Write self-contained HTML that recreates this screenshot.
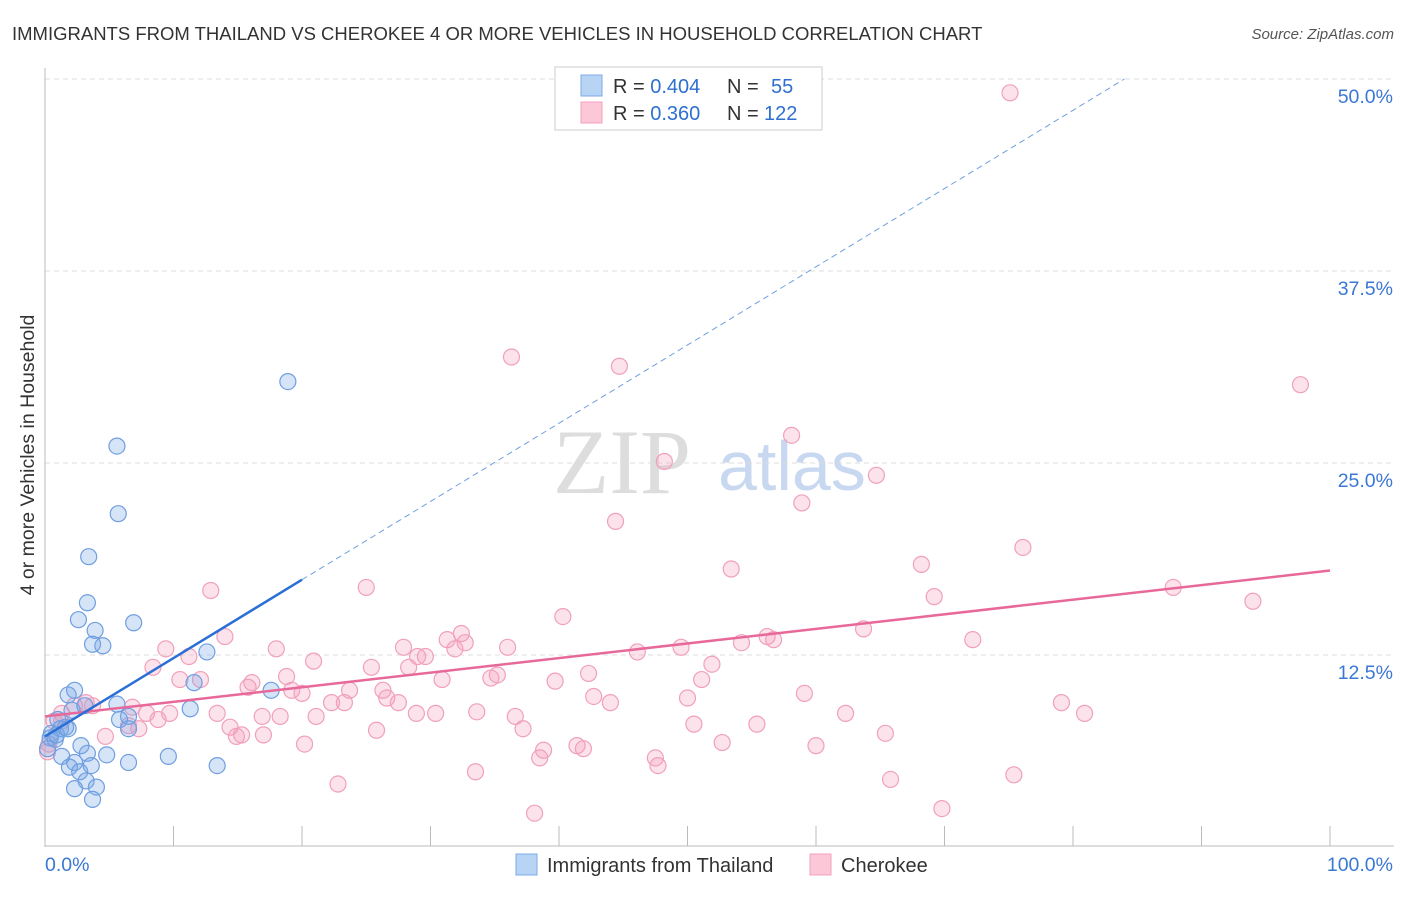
<!DOCTYPE html>
<html><head><meta charset="utf-8"><style>
body{margin:0;background:#fff;font-family:"Liberation Sans",sans-serif}
svg text{font-family:"Liberation Sans",sans-serif}
</style></head><body>
<svg id="chart" width="1406" height="892">
<text x="12" y="40" font-size="18.5" fill="#333">IMMIGRANTS FROM THAILAND VS CHEROKEE 4 OR MORE VEHICLES IN HOUSEHOLD CORRELATION CHART</text>
<text x="1394" y="39" font-size="15" fill="#555" font-style="italic" text-anchor="end">Source: ZipAtlas.com</text>
<text transform="translate(34,455) rotate(-90)" font-size="19.5" fill="#333" text-anchor="middle">4 or more Vehicles in Household</text>
<g><text x="553" y="493" font-size="92" fill="#ddd" font-family="Liberation Serif" style="font-family:'Liberation Serif',serif">ZIP</text><text x="718" y="490" font-size="70" fill="#c8d8f0">atlas</text></g>
<g id="grid"></g><g id="axes"></g><g id="pts"></g><g id="lines"></g>
<g>
<rect x="555" y="67" width="267" height="63" fill="#fff" stroke="#ccc"/>
<rect x="581" y="75" width="21" height="21" fill="#b8d4f5" stroke="#7eaae6"/>
<rect x="581" y="102" width="21" height="21" fill="#fcc8d8" stroke="#f0a0bc"/>
<text x="613" y="93" font-size="20" fill="#333">R = <tspan fill="#2f6fd0">0.404</tspan><tspan x="727">N = </tspan><tspan x="771" fill="#2f6fd0">55</tspan></text>
<text x="613" y="120" font-size="20" fill="#333">R = <tspan fill="#2f6fd0">0.360</tspan><tspan x="727">N = </tspan><tspan x="764" fill="#2f6fd0">122</tspan></text>
</g>
<g>
<rect x="516" y="854" width="21" height="21" fill="#b8d4f5" stroke="#7eaae6"/>
<text x="547" y="872" font-size="20" fill="#333">Immigrants from Thailand</text>
<rect x="810" y="854" width="21" height="21" fill="#fcc8d8" stroke="#f0a0bc"/>
<text x="841" y="872" font-size="20" fill="#333">Cherokee</text>
</g>
</svg>
<script>
const yTicks=[12.5,25,37.5,50];
const yTickLabels=["12.5%","25.0%","37.5%","50.0%"];
const xTicks=[0,10,20,30,40,50,60,70,80,90,100];
const blueX=[18.9,5.6,5.7,3.4,3.3,2.6,6.9,3.9,3.7,4.5,12.6,11.6,2.3,1.8,17.6,5.6,11.3,2.1,3.1,6.5,5.8,6.5,1.0,1.6,0.5,0.8,1.2,1.8,0.4,2.8,3.3,4.8,1.3,9.6,2.3,1.9,2.7,3.6,6.5,13.4,3.2,2.3,4.0,3.7,0.2,0.9];
const blueY=[30.3,26.1,21.7,18.9,15.9,14.8,14.6,14.1,13.2,13.1,12.7,10.7,10.2,9.9,10.2,9.3,9.0,8.9,9.2,8.5,8.3,7.7,8.3,7.8,7.4,7.0,7.7,7.7,7.1,6.6,6.1,6.0,5.9,5.9,5.5,5.2,4.9,5.3,5.5,5.3,4.3,3.8,3.9,3.1,6.4,7.3];
const pinkX=[75.1,36.3,44.7,97.7,58.1,48.2,64.7,58.9,44.4,76.1,53.4,68.2,87.8,25.0,12.9,69.2,94.0,40.3,63.7,72.2,56.2,56.7,54.2,32.4,31.3,32.7,31.9,36.0,27.9,9.4,18.0,49.5,46.1,51.9,11.2,14.0,20.9,29.6,29.0,28.3,25.4,18.8,8.4,35.2,34.7,42.3,30.9,51.1,39.7,12.1,10.5,16.1,15.8,23.7,26.3,19.2,20.0,26.6,27.5,22.3,23.3,42.7,44.0,50.0,59.1,79.1,3.2,3.7,2.3,1.3,6.8,7.9,13.4,8.8,9.7,16.9,18.3,21.1,28.9,30.4,33.6,36.6,62.3,80.9,1.3,0.7,6.5,14.4,7.3,50.5,55.4,37.2,25.8,15.3,14.9,17.0,4.7,65.4,20.2,52.7,41.4,41.9,60.0,38.8,47.5,47.7,38.5,33.5,65.8,75.4,22.8,38.1,69.8,0.3,0.2];
const pinkY=[49.1,31.9,31.3,30.1,26.8,25.1,24.2,22.4,21.2,19.5,18.1,18.4,16.9,16.9,16.7,16.3,16.0,15.0,14.2,13.5,13.7,13.5,13.3,13.9,13.5,13.3,12.9,13.0,13.0,12.9,12.9,13.0,12.7,11.9,12.4,13.7,12.1,12.4,12.4,11.7,11.7,11.1,11.7,11.2,11.0,11.3,10.9,10.9,10.8,10.9,10.9,10.7,10.4,10.2,10.2,10.2,10.0,9.7,9.4,9.4,9.4,9.8,9.4,9.7,10.0,9.4,9.4,9.2,9.2,8.7,9.1,8.7,8.7,8.3,8.7,8.5,8.5,8.5,8.7,8.7,8.8,8.5,8.7,8.7,8.2,8.2,7.9,7.8,7.7,8.0,8.0,7.7,7.6,7.3,7.2,7.3,7.2,7.4,6.7,6.8,6.6,6.4,6.6,6.3,5.8,5.3,5.8,4.9,4.4,4.7,4.1,2.2,2.5,6.7,6.2];
const blueLine=[[0,7.2],[20,17.4]];
const blueDash=[[20,17.4],[84,50]];
const pinkLine=[[0,8.5],[100,18]];
const NS="http://www.w3.org/2000/svg";
const sx=v=>45+v*12.85, sy=v=>847-v*15.36;
function mk(tag,attrs,parent){const e=document.createElementNS(NS,tag);for(const k in attrs)e.setAttribute(k,attrs[k]);document.getElementById(parent).appendChild(e);return e;}
yTicks.forEach((t,i)=>{
 const l=mk('line',{x1:45,x2:1394,y1:sy(t),y2:sy(t),stroke:'#ddd','stroke-dasharray':'5,4'},'grid');
 
 
 const tx=mk('text',{x:1393,y:sy(t)+24,'font-size':19.5,fill:'#3a78d4','text-anchor':'end'},'grid');
 tx.textContent=yTickLabels[i];
 
 
});
mk('line',{x1:45,x2:45,y1:68,y2:847,stroke:'#bbb'},'axes');
mk('line',{x1:45,x2:1394,y1:846,y2:846,stroke:'#bbb'},'axes');
xTicks.forEach(t=>{const l=mk('line',{x1:sx(t),x2:sx(t),y1:826,y2:846,stroke:'#bbb'},'axes');
 
 });
[[0,'0.0%','start',45],[100,'100.0%','end',1393]].forEach(a=>{const t=mk('text',{x:a[3],y:871,'font-size':19.5,fill:'#3a78d4','text-anchor':a[2]},'axes');t.textContent=a[1];
 
 });
pinkX.forEach((x,i)=>{const c=mk('circle',{cx:sx(x),cy:sy(pinkY[i]),r:8,fill:'rgba(245,160,190,0.3)',stroke:'#f0a0bc','stroke-width':1.2},'pts');
 
 });
blueX.forEach((x,i)=>{const c=mk('circle',{cx:sx(x),cy:sy(blueY[i]),r:8,fill:'rgba(120,165,230,0.3)',stroke:'#6f9fe0','stroke-width':1.2},'pts');
 
 });
const p=mk('line',{x1:sx(pinkLine[0][0]),y1:sy(pinkLine[0][1]),x2:sx(pinkLine[1][0]),y2:sy(pinkLine[1][1]),stroke:'#e8689a','stroke-width':2.5},'lines');


const d=mk('line',{x1:sx(blueDash[0][0]),y1:sy(blueDash[0][1]),x2:sx(blueDash[1][0]),y2:sy(blueDash[1][1]),stroke:'#6f9fe0','stroke-width':1,'stroke-dasharray':'6,4'},'lines');


const b=mk('line',{x1:sx(blueLine[0][0]),y1:sy(blueLine[0][1]),x2:sx(blueLine[1][0]),y2:sy(blueLine[1][1]),stroke:'#2a6fd6','stroke-width':2.5},'lines');


</script>
</body></html>
